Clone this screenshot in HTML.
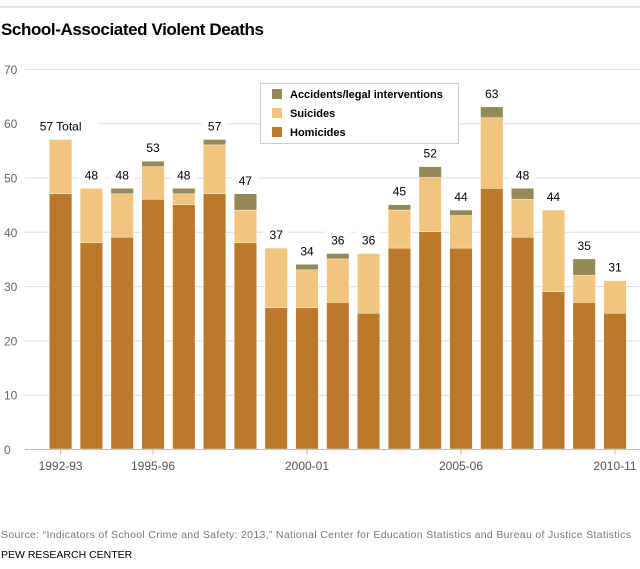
<!DOCTYPE html>
<html><head><meta charset="utf-8"><style>
body{margin:0;background:#fff;font-family:"Liberation Sans",sans-serif;}
</style></head><body>
<svg id="chart" width="640" height="564" xmlns="http://www.w3.org/2000/svg">
<line x1="0" y1="7" x2="640" y2="7" stroke="#ccc"/>
<text x="1" y="35" font-size="17" font-weight="bold" fill="#000" textLength="263">School-Associated Violent Deaths</text>
<g id="grid"></g><g id="bars"></g><g id="labels"></g>
<g>
<rect x="260.5" y="83.5" width="198" height="60" fill="#fff" stroke="#ccc"/>
<rect x="272" y="89" width="10" height="10" fill="#948a57"/>
<text x="290" y="98" font-size="11" font-weight="bold">Accidents/legal interventions</text>
<rect x="272" y="108" width="10" height="10" fill="#f2c57f"/>
<text x="290" y="117" font-size="11" font-weight="bold">Suicides</text>
<rect x="272" y="127" width="10" height="10" fill="#bb7a2b"/>
<text x="290" y="136" font-size="11" font-weight="bold">Homicides</text>
</g>
<text x="1" y="538" font-size="10.5" fill="#777" textLength="630">Source: “Indicators of School Crime and Safety: 2013,” National Center for Education Statistics and Bureau of Justice Statistics</text>
<text x="1" y="558" font-size="10.5" fill="#000">PEW RESEARCH CENTER</text>
</svg>
<script>
const years=["1992-93","1993-94","1994-95","1995-96","1996-97","1997-98","1998-99","1999-00","2000-01","2001-02","2002-03","2003-04","2004-05","2005-06","2006-07","2007-08","2008-09","2009-10","2010-11"];
const homicides=[47,38,39,46,45,47,38,26,26,27,25,37,40,37,48,39,29,27,25];
const suicides=[10,10,8,6,2,9,6,11,7,8,11,7,10,6,13,7,15,5,6];
const accidents=[0,0,1,1,1,1,3,0,1,1,0,1,2,1,2,2,0,3,0];
const totals=[57,48,48,53,48,57,47,37,34,36,36,45,52,44,63,48,44,35,31];
const yTicks=[0,10,20,30,40,50,60,70];
const xTickLabels={"1992-93":"1992-93","1995-96":"1995-96","2000-01":"2000-01","2005-06":"2005-06","2010-11":"2010-11"};
const NS="http://www.w3.org/2000/svg";
const y=v=>449-v*5.43;
const xc=i=>60.6+i*30.8;
const bw=22.5;
function mk(tag,attrs,parent){const e=document.createElementNS(NS,tag);for(const k in attrs)e.setAttribute(k,attrs[k]);parent.appendChild(e);return e;}
const grid=document.getElementById('grid'),bars=document.getElementById('bars'),labels=document.getElementById('labels');
yTicks.forEach(t=>{
  const l=mk('line',{x1:25,x2:640,y1:y(t)+0.5,y2:y(t)+0.5,stroke:t===0?'#bbb':'#ddd'},grid);
  
  
  const tx=mk('text',{x:4,y:y(t)+5,'font-size':12,fill:'#666'},grid);
  tx.textContent=t;
  
  
});
years.forEach((yr,i)=>{
  const x=xc(i)-bw/2;
  const segs=[[homicides[i],'#bb7a2b','homicides'],[suicides[i],'#f2c57f','suicides'],[accidents[i],'#948a57','accidents']];
  let base=0;
  segs.forEach(s=>{
    if(s[0]>0){
      const r=mk('rect',{x:x,y:y(base+s[0]),width:bw,height:y(base)-y(base+s[0]),fill:s[1],stroke:'#fff','stroke-width':0.4},bars);
      
      
    }
    base+=s[0];
  });
  const lbl=i===0?totals[i]+' Total':String(totals[i]);
  const w=i===0?74:26;
  const bg=mk('rect',{x:xc(i)-w/2,y:y(totals[i])-22,width:w,height:16,fill:'#fff'},labels);
  
  
  const tv=mk('text',{x:xc(i),y:y(totals[i])-9,'font-size':12,'text-anchor':'middle',fill:'#000'},labels);
  tv.textContent=lbl;
  
  
  if(xTickLabels[yr]){
    const tk=mk('line',{x1:xc(i),x2:xc(i),y1:449,y2:455,stroke:'#bbb'},labels);
    
    
    const lx=mk('text',{x:xc(i),y:470,'font-size':12,'text-anchor':'middle',fill:'#555'},labels);
    lx.textContent=xTickLabels[yr];
    
    
  }
});
</script>
</body></html>
